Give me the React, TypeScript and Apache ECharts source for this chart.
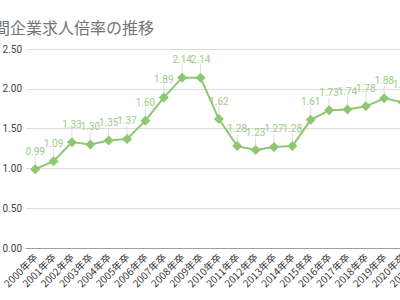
import React, { useEffect, useRef } from "react";
import * as echarts from "echarts";

const TITLE = "民間企業求人倍率の推移";
const categories = [
  "2000年卒", "2001年卒", "2002年卒", "2003年卒", "2004年卒", "2005年卒",
  "2006年卒", "2007年卒", "2008年卒", "2009年卒", "2010年卒", "2011年卒",
  "2012年卒", "2013年卒", "2014年卒", "2015年卒", "2016年卒", "2017年卒",
  "2018年卒", "2019年卒", "2020年卒", "2021年卒", "2022年卒",
];
const ratios = [
  0.99, 1.09, 1.33, 1.3, 1.35, 1.37, 1.6, 1.89, 2.14, 2.14, 1.62, 1.28,
  1.23, 1.27, 1.28, 1.61, 1.73, 1.74, 1.78, 1.88, 1.83, 1.53, 1.5,
];
const yTicks = { min: 0, max: 2.5, interval: 0.5 };

const GREEN = "#8fc672";
const LABEL_GREEN = "#9ccc85";
const FONT = 'Roboto, "Noto Sans CJK JP", sans-serif';

export default function App() {
  const ref = useRef<HTMLDivElement>(null);
  useEffect(() => {
    if (!ref.current) return;
    const chart = echarts.init(ref.current, undefined, { renderer: "svg" });
    chart.setOption({
      animation: false,
      backgroundColor: "#ffffff",
      title: {
        text: TITLE,
        left: 13,
        top: 14,
        textStyle: {
          fontSize: 16,
          fontWeight: "normal",
          color: "#757575",
          fontFamily: '"Noto Sans CJK JP", sans-serif',
        },
      },
      grid: { left: 66, top: 49, bottom: 52, width: 422.5 },
      xAxis: {
        type: "category",
        data: categories,
        boundaryGap: true,
        axisLine: { lineStyle: { color: "#9e9e9e", width: 1 } },
        axisTick: { show: false },
        axisLabel: {
          rotate: 45,
          interval: 0,
          fontSize: 10,
          margin: 7,
          color: "#333",
          fontFamily: '"Noto Sans CJK JP", Roboto, sans-serif',
        },
      },
      yAxis: {
        type: "value",
        min: yTicks.min,
        max: yTicks.max,
        interval: yTicks.interval,
        axisLine: { show: false },
        axisTick: { show: false },
        axisLabel: {
          fontSize: 10,
          margin: 4,
          color: "#444",
          fontFamily: FONT,
          formatter: (v: number) => v.toFixed(2),
        },
        splitLine: { lineStyle: { color: "#dcdcdc", width: 1 } },
      },
      series: [
        {
          type: "custom",
          silent: true,
          z: 1,
          data: ratios.map((v, i) => [i, v]),
          encode: { x: 0, y: 1 },
          renderItem: (params: any, api: any) => {
            const p = api.coord([api.value(0), api.value(1)]);
            return {
              type: "line",
              shape: { x1: p[0], y1: p[1], x2: p[0], y2: p[1] - 13 },
              style: { stroke: "#dedede", lineWidth: 1 },
            };
          },
        },
        {
          type: "line",
          z: 3,
          data: ratios,
          symbol: "diamond",
          symbolSize: 10,
          lineStyle: { color: GREEN, width: 2 },
          itemStyle: { color: GREEN },
          label: {
            show: true,
            position: "top",
            distance: 8,
            fontSize: 10,
            color: LABEL_GREEN,
            fontFamily: FONT,
            formatter: (p: any) => Number(p.value).toFixed(2),
          },
        },
      ],
    });
    return () => chart.dispose();
  }, []);
  return (
    <div
      style={{
        position: "fixed",
        left: 0,
        top: 0,
        width: 400,
        height: 300,
        overflow: "hidden",
        background: "#fff",
      }}
    >
      <div
        ref={ref}
        style={{ position: "absolute", left: -40, top: 0, width: 540, height: 300 }}
      />
    </div>
  );
}
